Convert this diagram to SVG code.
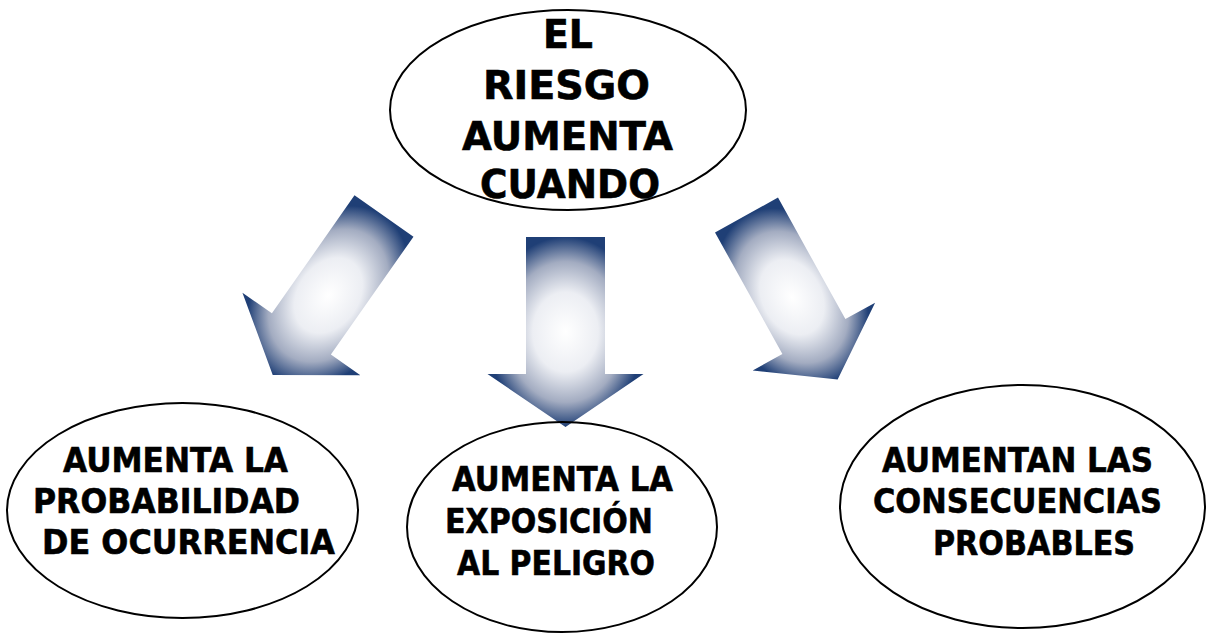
<svg xmlns="http://www.w3.org/2000/svg" width="1207" height="633" viewBox="0 0 1207 633">
<defs>
<radialGradient id="arrowGrad" cx="0.5" cy="0.5" r="0.5" fx="0.5" fy="0.5">
<stop offset="0" stop-color="#ffffff"/>
<stop offset="0.42" stop-color="#eceef3"/>
<stop offset="0.74" stop-color="#a3acc1"/>
<stop offset="1" stop-color="#1f3f76"/>
</radialGradient>
<style>
.node{fill:none;stroke:#000;stroke-width:2}
.lbl{font-family:"DejaVu Sans","Verdana",sans-serif;font-weight:bold;fill:#000;stroke:#000;stroke-width:0.6}
.big{font-size:39px}
.small{font-size:34px}
.arrow{fill:url(#arrowGrad);stroke:none}
</style>
</defs>
<rect width="1207" height="633" fill="#fff"/>
<g id="connectors">
<polygon class="arrow" transform="translate(384,216) rotate(35)" points="-36,0 36,0 36,144 72,144 0,194 -72,144 -36,144"/>
<polygon class="arrow" transform="translate(565.5,237)" points="-39.5,0 39.5,0 39.5,137 78,137 0,190 -78,137 -39.5,137"/>
<polygon class="arrow" transform="translate(746.5,215) rotate(-29)" points="-36,0 36,0 36,139 70,139 0,188 -70,139 -36,139"/>
</g>
<g id="node-top">
<ellipse class="node" cx="568" cy="110" rx="178" ry="100"/>
<text class="lbl big" x="543" y="48" textLength="50" lengthAdjust="spacingAndGlyphs">EL</text>
<text class="lbl big" x="483" y="99" textLength="167" lengthAdjust="spacingAndGlyphs">RIESGO</text>
<text class="lbl big" x="462" y="150" textLength="211" lengthAdjust="spacingAndGlyphs">AUMENTA</text>
<text class="lbl big" x="480" y="198" textLength="180" lengthAdjust="spacingAndGlyphs">CUANDO</text>
</g>
<g id="node-left">
<ellipse class="node" cx="182.5" cy="510.5" rx="175.5" ry="107.5"/>
<text class="lbl small" x="63" y="472" textLength="225" lengthAdjust="spacingAndGlyphs">AUMENTA LA</text>
<text class="lbl small" x="33" y="513" textLength="267" lengthAdjust="spacingAndGlyphs">PROBABILIDAD</text>
<text class="lbl small" x="42" y="554" textLength="293" lengthAdjust="spacingAndGlyphs">DE OCURRENCIA</text>
</g>
<g id="node-middle">
<ellipse class="node" cx="562" cy="527" rx="155" ry="105"/>
<text class="lbl small" x="452" y="491" textLength="221" lengthAdjust="spacingAndGlyphs">AUMENTA LA</text>
<text class="lbl small" x="445" y="533" textLength="208" lengthAdjust="spacingAndGlyphs">EXPOSICIÓN</text>
<text class="lbl small" x="457" y="575" textLength="198" lengthAdjust="spacingAndGlyphs">AL PELIGRO</text>
</g>
<g id="node-right">
<ellipse class="node" cx="1022.5" cy="506.5" rx="182.5" ry="121.5"/>
<text class="lbl small" x="882" y="472" textLength="271" lengthAdjust="spacingAndGlyphs">AUMENTAN LAS</text>
<text class="lbl small" x="873" y="513" textLength="289" lengthAdjust="spacingAndGlyphs">CONSECUENCIAS</text>
<text class="lbl small" x="933" y="555" textLength="202" lengthAdjust="spacingAndGlyphs">PROBABLES</text>
</g>
</svg>
